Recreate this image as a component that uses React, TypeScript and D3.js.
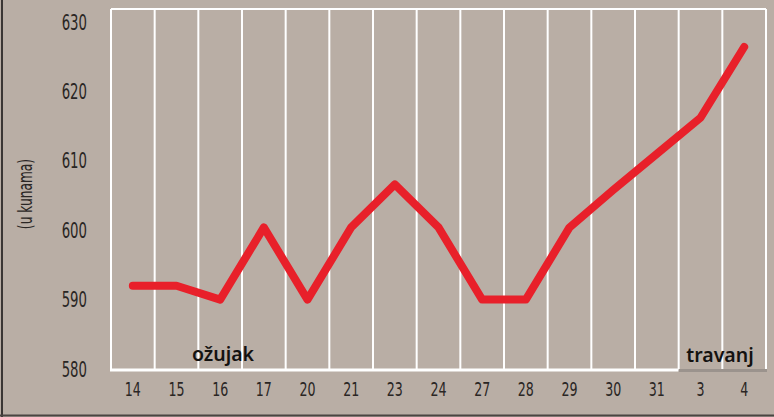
import React from "react";
import * as d3 from "d3";

const categories = ["14", "15", "16", "17", "20", "21", "23", "24", "27", "28", "29", "30", "31", "3", "4"];
const values = [592, 592, 590, 600.4, 590, 600.4, 606.6, 600.4, 590, 590, 600.4, 605.8, 611, 616.2, 626.4];
const yTicks = [580, 590, 600, 610, 620, 630];
const monthLabels = [
  { text: "ožujak", from: 0, to: 13 },
  { text: "travanj", from: 13, to: 15 },
];

const W = 774;
const H = 417;
const BG = "#b9aea5";
const RED = "#e8202a";

export default function App() {
  const left = 111;
  const right = 766;
  const top = 9;
  const bottom = 370;
  const x = d3.scaleBand<string>().domain(categories).range([left, right]).padding(0);
  const y = d3.scaleLinear().domain([580, 630]).range([369, 22]);
  const bw = x.bandwidth();
  const line = d3
    .line<number>()
    .x((_, i) => (x(categories[i]) as number) + bw / 2)
    .y((d) => y(d));
  const cond = "'DejaVu Sans Condensed', 'DejaVu Sans', sans-serif";
  const aprStart = left + 13 * bw;

  return (
    <svg width={W} height={H} style={{ position: "absolute", left: 0, top: 0, display: "block" }}>
      <rect x={0} y={0} width={W} height={H} fill={BG} />
      <line x1={2} x2={2} y1={0} y2={H} stroke="#3a3634" strokeWidth={2} />
      <line x1={0} x2={W} y1={415.5} y2={415.5} stroke="#4a4542" strokeWidth={2} />
      {d3.range(categories.length + 1).map((i) => (
        <line key={i} x1={left + i * bw} x2={left + i * bw} y1={top} y2={bottom} stroke="#ffffff" strokeWidth={2} />
      ))}
      <line x1={left} x2={right} y1={top} y2={top} stroke="#ffffff" strokeWidth={2} />
      <line x1={left - 1} x2={aprStart} y1={bottom} y2={bottom} stroke="#ffffff" strokeWidth={3} />
      <line x1={aprStart} x2={right + 1} y1={bottom + 0.5} y2={bottom + 0.5} stroke="#9b938d" strokeWidth={3} />
      {yTicks.map((t) => (
        <text
          key={t}
          transform={`translate(87,${y(t) + 7.5}) scale(0.72,1)`}
          textAnchor="end"
          fontFamily={cond}
          fontSize={20.5}
          fill="#2a2624"
        >
          {t}
        </text>
      ))}
      {categories.map((c) => (
        <text
          key={c}
          transform={`translate(${(x(c) as number) + bw / 2},${395.5}) scale(0.72,1)`}
          textAnchor="middle"
          fontFamily={cond}
          fontSize={19.5}
          fill="#2a2624"
        >
          {c}
        </text>
      ))}
      <text
        transform="translate(31.5,194) rotate(-90) scale(0.68,1)"
        textAnchor="middle"
        fontFamily={cond}
        fontSize={20}
        fill="#2a2624"
      >
        (u kunama)
      </text>
      <text x={223} y={361} textAnchor="middle" fontFamily="'Noto Sans', sans-serif" fontWeight={600} fontSize={19.5} fill="#141210">
        {monthLabels[0].text}
      </text>
      <text x={720} y={362} textAnchor="middle" fontFamily="'Noto Sans', sans-serif" fontWeight={600} fontSize={19.5} fill="#141210">
        {monthLabels[1].text}
      </text>
      <path d={line(values) ?? ""} fill="none" stroke={RED} strokeWidth={8} strokeLinecap="round" strokeLinejoin="round" />
    </svg>
  );
}
